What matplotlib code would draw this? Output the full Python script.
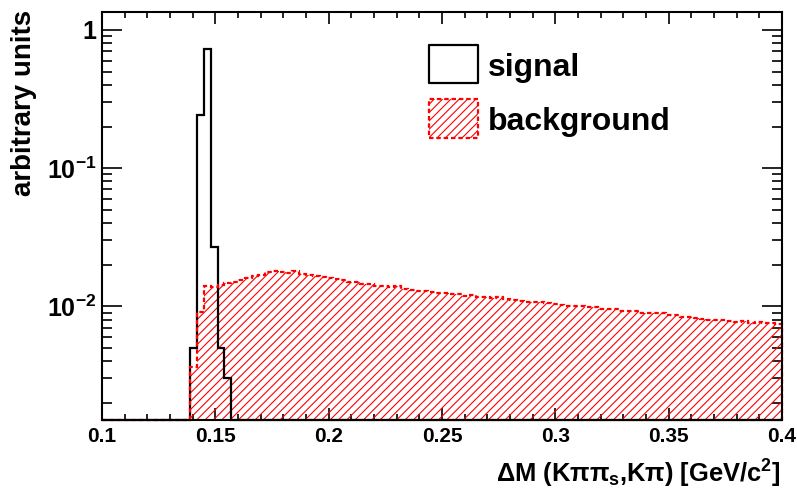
import numpy as np
import matplotlib
matplotlib.use("Agg")
import matplotlib.pyplot as plt
from matplotlib.patches import Rectangle
from matplotlib.ticker import FixedLocator, FixedFormatter, LogLocator, MultipleLocator, NullFormatter

plt.rcParams["font.family"] = ["Liberation Sans", "DejaVu Sans"]
plt.rcParams["font.weight"] = "bold"
plt.rcParams["mathtext.fontset"] = "custom"
plt.rcParams["mathtext.rm"] = "Liberation Sans:bold"
plt.rcParams["mathtext.bf"] = "Liberation Sans:bold"
plt.rcParams["mathtext.it"] = "Liberation Sans:bold"
plt.rcParams["mathtext.sf"] = "Liberation Sans:bold"
plt.rcParams["hatch.linewidth"] = 0.8

# Binning: 100 bins of 3 MeV between 0.1 and 0.4 GeV/c^2
n_bins = 100
x_lo, x_hi = 0.1, 0.4
y_lo, y_hi = 0.0015, 1.35

# Normalised signal histogram (non-empty bins, starting at bin 13)
signal_first_bin = 13
signal_values = [0.0050, 0.242, 0.725, 0.0268, 0.0050, 0.0030]

# Normalised background histogram (non-empty bins, starting at bin 13)
background_first_bin = 13
background_values = [
    0.0036, 0.0091, 0.0140, 0.0138, 0.0142, 0.0147, 0.0150, 0.0155, 0.0160, 0.0166,
    0.0169, 0.0176, 0.0180, 0.0177, 0.0174, 0.0179, 0.0171, 0.0168, 0.0165, 0.0163,
    0.0160, 0.0158, 0.0154, 0.0150, 0.0149, 0.0145, 0.0146, 0.0141, 0.0139, 0.0138,
    0.0140, 0.0133, 0.0132, 0.0129, 0.0128, 0.0127, 0.0125, 0.0124, 0.0122, 0.0123,
    0.0119, 0.0120, 0.0117, 0.0116, 0.0115, 0.0117, 0.0112, 0.0110, 0.0109, 0.0108,
    0.0107, 0.0108, 0.0106, 0.0103, 0.0102, 0.0101, 0.0100, 0.0101, 0.0099, 0.0098,
    0.0096, 0.0095, 0.0095, 0.0093, 0.0092, 0.0092, 0.0090, 0.0089, 0.0090, 0.0089,
    0.0087, 0.0086, 0.0084, 0.0083, 0.0082, 0.0081, 0.0080, 0.0079, 0.0079, 0.0078,
    0.0077, 0.0078, 0.0076, 0.0077, 0.0075, 0.0076, 0.0074,
]

x_tick_values = [0.1, 0.15, 0.2, 0.25, 0.3, 0.35, 0.4]
x_tick_labels = ["0.1", "0.15", "0.2", "0.25", "0.3", "0.35", "0.4"]
y_tick_values = [0.01, 0.1, 1.0]
y_tick_labels = [r"$10^{-2}$", r"$10^{-1}$", "1"]

legend_labels = ["signal", "background"]

edges = np.linspace(x_lo, x_hi, n_bins + 1)
signal = np.zeros(n_bins)
signal[signal_first_bin:signal_first_bin + len(signal_values)] = signal_values
background = np.zeros(n_bins)
background[background_first_bin:background_first_bin + len(background_values)] = background_values

# empty bins sit on the lower frame edge, as on a log-scale histogram frame
sig_draw = np.clip(signal, y_lo, None)
bkg_draw = np.clip(background, y_lo, None)

W, H = 797, 490
fig = plt.figure(figsize=(W / 100, H / 100), dpi=100)
ax = fig.add_axes([102 / W, 1 - 420 / H, (782 - 102) / W, (420 - 12) / H])
ax.set_yscale("log")
ax.set_xlim(x_lo, x_hi)
ax.set_ylim(y_lo, y_hi)

red = "#ff0000"
dash = (0, (2.0, 1.3))
hatch = "////"

ax.stairs(bkg_draw, edges, baseline=y_lo, fill=True, facecolor="none",
          edgecolor=red, hatch=hatch, linewidth=0, zorder=2)
ax.stairs(sig_draw, edges, baseline=y_lo, color="black", linewidth=1.6,
          zorder=3, clip_on=False)
ax.stairs(bkg_draw, edges, baseline=y_lo, color=red, linewidth=1.6,
          linestyle=dash, zorder=4, clip_on=False)

# frame and ticks
for s in ax.spines.values():
    s.set_linewidth(1.5)
    s.set_zorder(5)

ax.xaxis.set_major_locator(FixedLocator(x_tick_values))
ax.xaxis.set_major_formatter(FixedFormatter(x_tick_labels))
ax.xaxis.set_minor_locator(MultipleLocator(0.01))
ax.yaxis.set_major_locator(FixedLocator(y_tick_values))
ax.yaxis.set_major_formatter(FixedFormatter(y_tick_labels))
ax.yaxis.set_minor_locator(LogLocator(base=10, subs=np.arange(2, 10)))
ax.yaxis.set_minor_formatter(NullFormatter())

ax.tick_params(axis="both", which="both", direction="in", top=True, right=True,
               width=1.2)
ax.tick_params(axis="x", which="major", length=8.5, pad=5, labelsize=15)
ax.tick_params(axis="x", which="minor", length=4.3)
ax.tick_params(axis="y", which="major", length=14.5, pad=4, labelsize=18)
ax.tick_params(axis="y", which="minor", length=7.2)

# axis titles
fig.text(780 / W, 1 - 483 / H, r"$\Delta$M (K$\pi\pi_{s}$,K$\pi$) [GeV/c$^{2}$]",
         ha="right", va="baseline", fontsize=18.4, fontweight="bold")
fig.text(24 / W, 1 - 10 / H, "arbitrary units", rotation=90, ha="center", va="top",
         fontsize=20, fontweight="bold")

# legend
def to_ax(px, py):
    return ax.transAxes.inverted().transform(fig.transFigure.transform((px / W, 1 - py / H)))

x0, y0 = to_ax(429, 83)
x1, y1 = to_ax(478, 45)
ax.add_patch(Rectangle((x0, y0), x1 - x0, y1 - y0, transform=ax.transAxes,
                       facecolor="white", edgecolor="black", linewidth=1.6,
                       joinstyle="round", zorder=6))
x0, y0 = to_ax(429, 138)
x1, y1 = to_ax(478, 99)
ax.add_patch(Rectangle((x0, y0), x1 - x0, y1 - y0, transform=ax.transAxes,
                       facecolor="white", edgecolor=red, linewidth=1.6,
                       linestyle=dash, zorder=6))
ax.add_patch(Rectangle((x0, y0), x1 - x0, y1 - y0, transform=ax.transAxes,
                       facecolor="none", edgecolor=red, linewidth=0,
                       hatch=hatch, zorder=6))
fig.text(488 / W, 1 - 76 / H, legend_labels[0], ha="left", va="baseline",
         fontsize=23, fontweight="bold")
fig.text(488 / W, 1 - 130 / H, legend_labels[1], ha="left", va="baseline",
         fontsize=23, fontweight="bold")

fig.savefig("out.png", dpi=100)
